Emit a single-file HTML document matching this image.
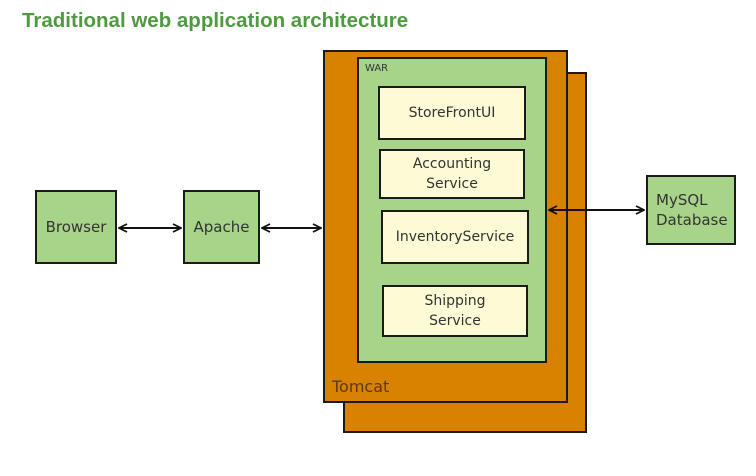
<!DOCTYPE html>
<html><head><style>
body{margin:0;background:#fff;width:756px;height:476px;position:relative;overflow:hidden;font-family:"DejaVu Sans","Liberation Sans",sans-serif}
.b{position:absolute;box-sizing:border-box;border:2px solid #1a1a1a}
.g{background:#a8d48a}
.y{background:#fdfbd6;display:flex;align-items:center;justify-content:center;text-align:center;font-size:14px;color:#333;line-height:20px}
.o{background:#d98200}
.n{display:flex;align-items:center;justify-content:center;text-align:center;font-size:15px;color:#333;line-height:20px}
</style></head><body>
<div style="position:absolute;left:22px;top:9px;font-family:'Liberation Sans',sans-serif;font-weight:bold;font-size:20.5px;color:#4f9a40">Traditional web application architecture</div>
<div class="b o" style="left:343px;top:72px;width:244px;height:361px"></div>
<div class="b o" style="left:323px;top:50px;width:245px;height:353px"></div>
<div style="position:absolute;left:332px;top:377px;font-size:16px;color:#5a3a10">Tomcat</div>
<div class="b g" style="left:357px;top:57px;width:190px;height:306px"></div>
<div style="position:absolute;left:365px;top:63px;font-size:10px;color:#333">WAR</div>
<div class="b y" style="left:378px;top:86px;width:148px;height:54px">StoreFrontUI</div>
<div class="b y" style="left:379px;top:149px;width:146px;height:50px">Accounting<br>Service</div>
<div class="b y" style="left:381px;top:210px;width:148px;height:54px">InventoryService</div>
<div class="b y" style="left:382px;top:285px;width:146px;height:52px">Shipping<br>Service</div>
<div class="b g n" style="left:35px;top:190px;width:82px;height:74px">Browser</div>
<div class="b g n" style="left:183px;top:190px;width:77px;height:74px">Apache</div>
<div class="b g n" style="left:646px;top:175px;width:90px;height:70px;justify-content:flex-start;padding-left:8px;text-align:left">MySQL<br>Database</div>
<svg width="756" height="476" style="position:absolute;left:0;top:0">
<defs><marker id="a" markerWidth="10" markerHeight="10" refX="9" refY="5" orient="auto-start-reverse" markerUnits="userSpaceOnUse"><path d="M1,1 L9,5 L1,9" fill="none" stroke="#111" stroke-width="1.8"/></marker></defs>
<g stroke="#111" stroke-width="2">
<line x1="119" y1="228" x2="181" y2="228" marker-start="url(#a)" marker-end="url(#a)"/>
<line x1="262" y1="228" x2="321" y2="228" marker-start="url(#a)" marker-end="url(#a)"/>
<line x1="549" y1="210" x2="644" y2="210" marker-start="url(#a)" marker-end="url(#a)"/>
</g></svg>
</body></html>
